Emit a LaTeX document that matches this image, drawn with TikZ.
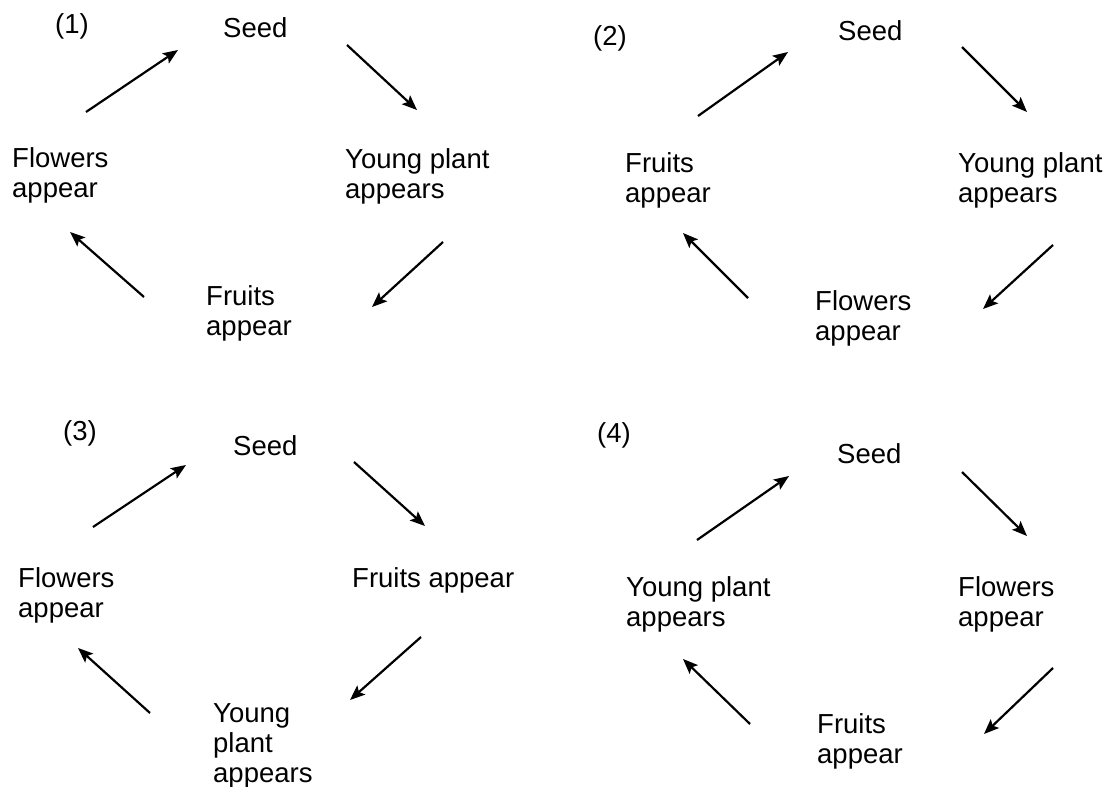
\documentclass[tikz,border=0pt]{standalone}
\usepackage{fontspec}
\setmainfont{Liberation Sans}
\usetikzlibrary{arrows.meta}
\tikzset{
  stage/.style={anchor=north west, inner sep=0pt, align=left, font=\fontsize{27.5}{30}\selectfont},
  cyc/.style={line width=2.2pt, -{Stealth[length=15pt,width=12pt,inset=3pt]}}
}

\begin{document}
\begin{tikzpicture}[x=1pt,y=-1pt]
    \useasboundingbox (0,0) rectangle (1117,787);
    % (1) Seed -> Young plant -> Fruits -> Flowers
    \node[stage] (num1) at (55,13) {(1)};
    \node[stage] (seed1) at (223,17) {Seed};
    \node[stage] (young1) at (345,148) {Young plant\\appears};
    \node[stage] (fruit1) at (206,285) {Fruits\\appear};
    \node[stage] (flow1) at (12,147) {Flowers\\appear};
    \coordinate (a1s) at (86,112);   \coordinate (a1e) at (178,50);
    \coordinate (b1s) at (347,45);   \coordinate (b1e) at (417,110);
    \coordinate (c1s) at (443,242);  \coordinate (c1e) at (372,307);
    \coordinate (d1s) at (144,297);  \coordinate (d1e) at (70,232);
    \draw[cyc] (a1s) -- (a1e);
    \draw[cyc] (b1s) -- (b1e);
    \draw[cyc] (c1s) -- (c1e);
    \draw[cyc] (d1s) -- (d1e);
    % (2) Seed -> Young plant -> Flowers -> Fruits
    \node[stage] (num2) at (593,25) {(2)};
    \node[stage] (seed2) at (838,20) {Seed};
    \node[stage] (young2) at (958,152) {Young plant\\appears};
    \node[stage] (flow2) at (815,290) {Flowers\\appear};
    \node[stage] (fruit2) at (625,152) {Fruits\\appear};
    \coordinate (a2s) at (698,116);  \coordinate (a2e) at (788,52);
    \coordinate (b2s) at (962,47);   \coordinate (b2e) at (1027,112);
    \coordinate (c2s) at (1053,245); \coordinate (c2e) at (983,309);
    \coordinate (d2s) at (748,298);  \coordinate (d2e) at (683,233);
    \draw[cyc] (a2s) -- (a2e);
    \draw[cyc] (b2s) -- (b2e);
    \draw[cyc] (c2s) -- (c2e);
    \draw[cyc] (d2s) -- (d2e);
    % (3) Seed -> Fruits -> Young plant -> Flowers
    \node[stage] (num3) at (63,420) {(3)};
    \node[stage] (seed3) at (233,435) {Seed};
    \node[stage] (fruit3) at (352,567) {Fruits appear};
    \node[stage] (young3) at (213,703) {Young\\plant\\appears};
    \node[stage] (flow3) at (18,567) {Flowers\\appear};
    \coordinate (a3s) at (93,527);   \coordinate (a3e) at (186,465);
    \coordinate (b3s) at (354,462);  \coordinate (b3e) at (425,526);
    \coordinate (c3s) at (421,637);  \coordinate (c3e) at (350,700);
    \coordinate (d3s) at (150,713);  \coordinate (d3e) at (78,648);
    \draw[cyc] (a3s) -- (a3e);
    \draw[cyc] (b3s) -- (b3e);
    \draw[cyc] (c3s) -- (c3e);
    \draw[cyc] (d3s) -- (d3e);
    % (4) Seed -> Flowers -> Fruits -> Young plant
    \node[stage] (num4) at (597,422) {(4)};
    \node[stage] (seed4) at (837,443) {Seed};
    \node[stage] (flow4) at (958,576) {Flowers\\appear};
    \node[stage] (fruit4) at (817,713) {Fruits\\appear};
    \node[stage] (young4) at (626,576) {Young plant\\appears};
    \coordinate (a4s) at (697,540);  \coordinate (a4e) at (789,476);
    \coordinate (b4s) at (962,472);  \coordinate (b4e) at (1027,536);
    \coordinate (c4s) at (1053,668); \coordinate (c4e) at (984,734);
    \coordinate (d4s) at (750,724);  \coordinate (d4e) at (683,659);
    \draw[cyc] (a4s) -- (a4e);
    \draw[cyc] (b4s) -- (b4e);
    \draw[cyc] (c4s) -- (c4e);
    \draw[cyc] (d4s) -- (d4e);
\end{tikzpicture}
\end{document}
